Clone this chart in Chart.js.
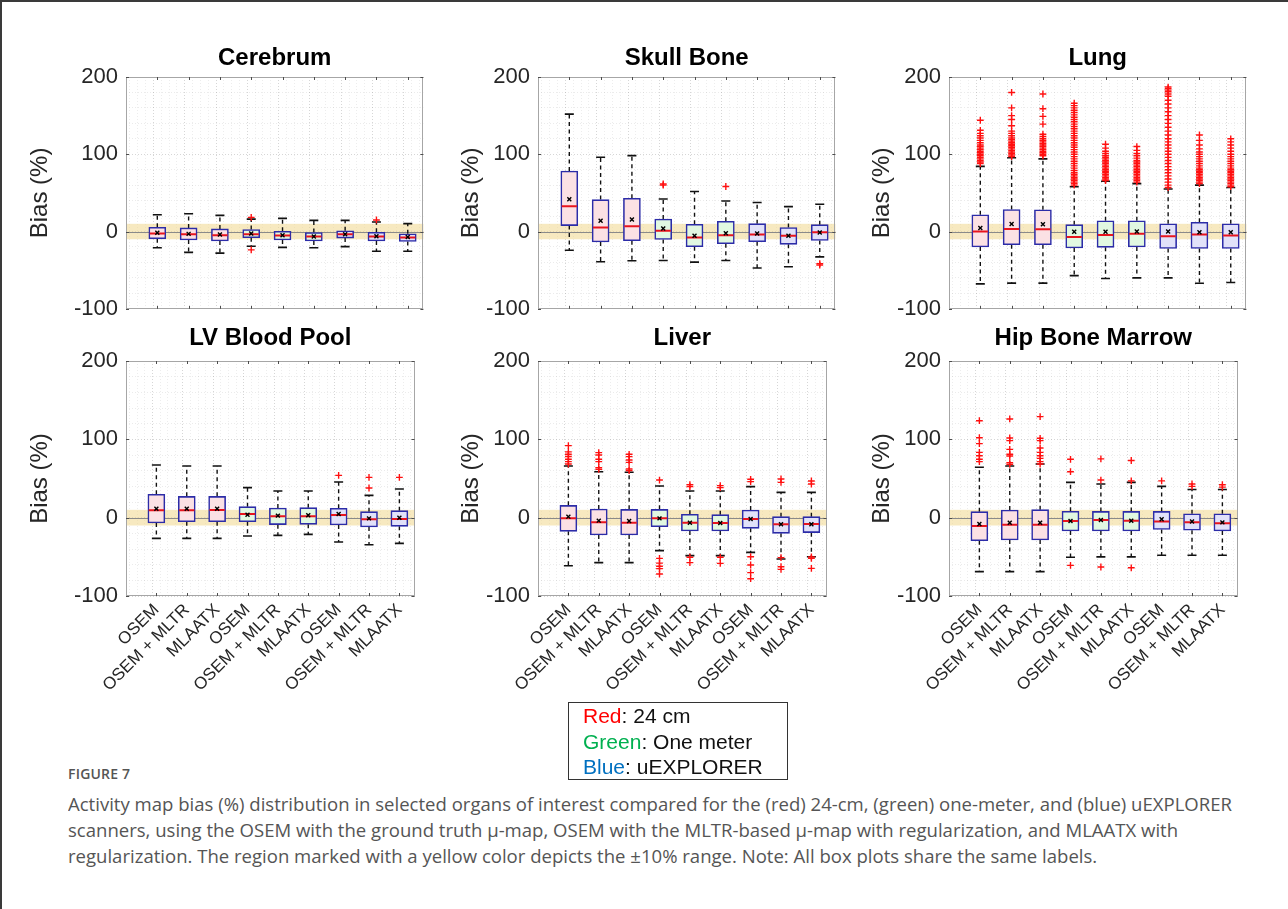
<!DOCTYPE html>
<html><head><meta charset="utf-8">
<script src="https://cdn.jsdelivr.net/npm/chart.js@4.4.0/dist/chart.umd.min.js"></script>
<style>
html,body{margin:0;padding:0;background:#fff;}
body{width:1288px;height:909px;position:relative;overflow:hidden;font-family:"Liberation Sans",Arial,Helvetica,sans-serif;}
#frame{position:absolute;left:0;top:0;width:1288px;height:909px;border-top:2px solid #3a3a3a;border-left:2px solid #3a3a3a;box-sizing:border-box;}
canvas{position:absolute;}
.legend{position:absolute;left:568px;top:702px;width:220px;height:78px;border:1.5px solid #333;box-sizing:border-box;font-size:21px;line-height:25.5px;padding:0 0 0 14px;color:#111;}
.figlabel{position:absolute;left:68px;top:764px;font-family:"Open Sans",sans-serif;font-size:14px;color:#555;font-weight:600;letter-spacing:0.2px;}
.caption{position:absolute;left:68px;top:791px;font-family:"Open Sans",sans-serif;font-size:17.5px;color:#555;line-height:26px;white-space:nowrap;transform-origin:0 0;}
</style></head>
<body>
<div id="frame"></div>
<canvas id="c0"></canvas><canvas id="c1"></canvas><canvas id="c2"></canvas>
<canvas id="c3"></canvas><canvas id="c4"></canvas><canvas id="c5"></canvas>
<div class="legend">
<div><span style="color:#ff0000">Red</span>: 24 cm</div>
<div><span style="color:#00b050">Green</span>: One meter</div>
<div><span style="color:#0070c0">Blue</span>: uEXPLORER</div>
</div>
<div class="figlabel">FIGURE 7</div>
<div class="caption" id="cap">
<div id="capLine1" style="display:inline-block">Activity map bias (%) distribution in selected organs of interest compared for the (red) 24-cm, (green) one-meter, and (blue) uEXPLORER</div>
<div>scanners, using the OSEM with the ground truth μ-map, OSEM with the MLTR-based μ-map with regularization, and MLAATX with</div>
<div>regularization. The region marked with a yellow color depicts the ±10% range. Note: All box plots share the same labels.</div>
</div>
<script>
// ---------- data ----------
const organs = ['Cerebrum', 'Skull Bone', 'Lung', 'LV Blood Pool', 'Liver', 'Hip Bone Marrow'];
const methods = ['OSEM', 'OSEM + MLTR', 'MLAATX', 'OSEM', 'OSEM + MLTR', 'MLAATX', 'OSEM', 'OSEM + MLTR', 'MLAATX'];
const scannerOfBox = ['24 cm', '24 cm', '24 cm', 'One meter', 'One meter', 'One meter', 'uEXPLORER', 'uEXPLORER', 'uEXPLORER'];
const yTicks = [-100, 0, 100, 200];
const bandRange = [-10, 10];

const cerebrumLo   = [-21, -27, -28, -19, -20.5, -21, -19.5, -25.5, -25.5];
const cerebrumQ1   = [-9.4, -11, -12.3, -8, -11, -12.3, -8.5, -12.3, -12.8];
const cerebrumMed  = [-2.6, -3.4, -4.7, -3.4, -5, -6.4, -3.4, -6.4, -7.7];
const cerebrumQ3   = [5.5, 4.7, 3.4, 2.6, 0.4, -1.3, 0.9, -0.9, -3];
const cerebrumHi   = [21.7, 23, 20.9, 16, 17, 14.5, 14.5, 12.3, 10.2];
const cerebrumMean = [-1.7, -3, -3.8, -2.6, -4.7, -6.4, -3.4, -6, -7.2];
const cerebrumOut  = [[], [], [], [18.3, -23.8], [], [], [], [15], []];

const skullLo   = [-24.3, -39.1, -37.9, -37.4, -39.6, -37.4, -47.2, -45.5, -32.8];
const skullQ1   = [7.7, -13.6, -11.9, -10.2, -19.6, -15.7, -13.2, -16.6, -11.5];
const skullMed  = [32.8, 5.1, 6.8, 0.9, -7.7, -4.7, -3.8, -5.5, -0.9];
const skullQ3   = [78.3, 41.3, 43, 16.2, 9.4, 13.2, 10.2, 5.1, 8.9];
const skullHi   = [151.9, 96.2, 98.3, 42.1, 51.9, 39.6, 37.5, 32.3, 35.3];
const skullMean = [41.7, 14, 15.7, 3.8, -5.5, -2.1, -2.5, -5.5, -1.3];
const skullOut  = [[], [], [], [60, 61.5], [], [58.3], [], [], [-43.4, -41.5]];

const lungLo   = [-67.7, -66.8, -66.8, -57, -60.8, -60, -60, -67, -66];
const lungQ1   = [-20, -17, -17, -21.3, -20.4, -20, -22, -22, -22];
const lungMed  = [0, 3.4, 3, -7.2, -4.6, -3, -6, -4, -5];
const lungQ3   = [21.7, 28.5, 28.1, 8.9, 14, 14, 10, 12, 10];
const lungHi   = [84.3, 95.4, 94, 58, 65, 62, 55, 60, 57];
const lungMean = [4.7, 9.8, 9.4, -0.4, -0.4, 0, 0, -1, -1];
const lungOut  = [
  [144, 131, 127, 124, 121, 118, 115, 112, 110, 108, 106, 104, 102, 100, 98, 96, 94, 92, 90, 88],
  [180, 160, 150, 145, 137, 130, 127, 124, 121, 119, 117, 115, 113, 111, 109, 107, 105, 103, 101, 99, 97],
  [178, 159, 149, 139, 126, 123, 120, 118, 116, 114, 112, 110, 108, 106, 104, 102, 100, 98],
  [166, 163, 160, 157, 154, 151, 148, 145, 142, 139, 136, 133, 130, 127, 124, 121, 118, 115, 112, 109, 106, 103, 100, 97, 94, 91, 88, 85, 82, 79, 76, 74, 72, 70, 68, 66, 64, 62, 60],
  [113, 108, 104, 101, 98, 96, 94, 92, 90, 88, 86, 84, 82, 80, 78, 76, 74, 72, 70, 68, 66],
  [110, 105, 101, 98, 95, 92, 90, 88, 86, 84, 82, 80, 78, 76, 74, 72, 70, 68, 66, 64],
  [187, 185, 183, 181, 178, 175, 170, 165, 160, 155, 150, 145, 140, 135, 130, 125, 120, 116, 112, 108, 104, 100, 96, 92, 88, 84, 80, 76, 72, 68, 64, 60, 57],
  [125, 118, 112, 107, 103, 100, 97, 94, 91, 88, 85, 82, 80, 78, 76, 74, 72, 70, 68, 66, 64, 62],
  [120, 116, 112, 108, 104, 100, 97, 94, 91, 88, 85, 82, 80, 78, 76, 74, 72, 70, 68, 66, 64, 62, 60, 58]
];

const lvLo   = [-26.4, -26.4, -26.4, -23.4, -22.6, -21.3, -31.1, -34.5, -32.8];
const lvQ1   = [-6.8, -5.1, -5.1, -5.1, -8.9, -8.5, -9.4, -11.9, -11.1];
const lvMed  = [9.4, 9.4, 9.8, 4.7, 1.7, 1.7, 3.4, -2.1, -1.7];
const lvQ3   = [29.8, 27.2, 27.2, 14, 12.3, 12.8, 11.9, 7.7, 8.9];
const lvHi   = [67.2, 66, 66, 38.3, 34, 34, 45.5, 28.5, 36.6];
const lvMean = [11.5, 11.5, 11.5, 3.8, 2.6, 3, 4.7, -0.9, 0];
const lvOut  = [[], [], [], [], [], [], [54], [51.5, 37.9], [51.5]];

const liverLo   = [-61.3, -57.4, -57.4, -42.1, -48.5, -48.5, -44.3, -52.8, -49.8];
const liverQ1   = [-17.4, -22.1, -22.1, -11.5, -17, -17, -13.6, -20, -19.1];
const liverMed  = [-0.9, -6, -6.4, -0.9, -6.4, -6.8, -1.7, -8.5, -8.1];
const liverQ3   = [15.7, 11, 10.6, 10.6, 4.3, 3.8, 9.8, 1.3, 1.3];
const liverHi   = [66, 58.7, 57.9, 40.4, 34, 34, 39.6, 32.3, 32.3];
const liverMean = [1.3, -3.8, -4.3, -0.9, -6.4, -6.8, -1.7, -8.5, -8.5];
const liverOut  = [
  [92, 84, 81, 78, 74.5, 71.5, 68.5],
  [83, 80, 74.5, 71.5, 63.8, 61.7],
  [80.9, 77.9, 73.6, 70.6, 62.1, 60],
  [48, -52, -58, -62, -65, -72],
  [42, 39.6, -57.4, -50.5],
  [40.9, 38.3, -58.3, -50.6],
  [49, 46, -49.8, -60.4, -70.2, -77.9],
  [49.4, 45.1, -51, -62.6, -66],
  [46.8, 43, -51.9, -64.7, -50]
];

const hipLo   = [-68.9, -68.9, -68.9, -50.6, -50, -50, -48, -48, -48];
const hipQ1   = [-29.4, -28.5, -28.5, -17, -17, -17, -15, -16, -17];
const hipMed  = [-10.6, -8.9, -8.9, -4.3, -3, -4, -5, -6, -7];
const hipQ3   = [7.7, 9.8, 10.2, 8.1, 8, 8, 8, 5, 5];
const hipHi   = [64.3, 66, 68.5, 45.1, 43, 45, 40, 36, 36];
const hipMean = [-8.1, -6.4, -6.4, -4.3, -3, -4, -2, -5, -6];
const hipOut  = [
  [123.8, 102, 94.5, 83.4, 79, 74.5, 71.5],
  [126, 101.7, 98.3, 87.2, 80.9, 78.7, 70.2, 68],
  [129, 101.3, 98.3, 89, 83.4, 79, 75.7, 71.5, 68.5],
  [74.5, 58.7, -60.9],
  [75, 48, -63],
  [73, 47, -64],
  [47],
  [43, 40],
  [42, 39]
];

// ---------- assembly ----------
const panelStats = [
  [cerebrumLo, cerebrumQ1, cerebrumMed, cerebrumQ3, cerebrumHi, cerebrumMean, cerebrumOut],
  [skullLo, skullQ1, skullMed, skullQ3, skullHi, skullMean, skullOut],
  [lungLo, lungQ1, lungMed, lungQ3, lungHi, lungMean, lungOut],
  [lvLo, lvQ1, lvMed, lvQ3, lvHi, lvMean, lvOut],
  [liverLo, liverQ1, liverMed, liverQ3, liverHi, liverMean, liverOut],
  [hipLo, hipQ1, hipMed, hipQ3, hipHi, hipMean, hipOut]
];

const FONT = '"Liberation Sans", Arial, Helvetica, sans-serif';
const fillByScanner = {'24 cm': '#fbe1e4', 'One meter': '#e1f8e1', 'uEXPLORER': '#e1e1f9'};
const PLOT_W = 301, PLOT_H = 235, YAX_W = 124, TOP_PAD = 50, RIGHT_PAD = 6;
const colLeft = [126, 538, 949];
const rowTop = [77, 361];
const yTitlePad = [24, 43, 43];
const isInt = v => Math.abs(v - Math.round(v)) < 1e-6;

const decor = {
  id: 'matlabDecor',
  beforeDatasetsDraw(chart, args, opts) {
    const {ctx, chartArea: a, scales: {y}} = chart;
    ctx.save();
    ctx.fillStyle = 'rgba(240, 215, 140, 0.55)';
    const yTop = y.getPixelForValue(bandRange[1]), yBot = y.getPixelForValue(bandRange[0]);
    ctx.fillRect(a.left, yTop, a.right - a.left, yBot - yTop);
    const y0 = Math.round(y.getPixelForValue(0)) + 0.5;
    ctx.strokeStyle = '#8a8a8a'; ctx.lineWidth = 1;
    ctx.beginPath(); ctx.moveTo(a.left, y0); ctx.lineTo(a.right, y0); ctx.stroke();
    ctx.restore();
  },
  afterDraw(chart, args, opts) {
    const {ctx, chartArea: a, scales: {x, y}} = chart;
    ctx.save();
    ctx.strokeStyle = '#a6a6a6'; ctx.lineWidth = 1;
    ctx.strokeRect(Math.round(a.left) + 0.5, Math.round(a.top) + 0.5, Math.round(a.right - a.left) - 1, Math.round(a.bottom - a.top) - 1);
    ctx.strokeStyle = '#4d4d4d';
    ctx.beginPath();
    for (let i = 1; i <= methods.length; i++) {
      const px = Math.round(x.getPixelForValue(i)) + 0.5;
      ctx.moveTo(px, a.top); ctx.lineTo(px, a.top + 3);
      ctx.moveTo(px, a.bottom); ctx.lineTo(px, a.bottom - 3);
    }
    yTicks.forEach(v => {
      const py = Math.round(y.getPixelForValue(v)) + 0.5;
      ctx.moveTo(a.left, py); ctx.lineTo(a.left + 3, py);
      ctx.moveTo(a.right, py); ctx.lineTo(a.right - 3, py);
    });
    ctx.stroke();
    ctx.fillStyle = '#000';
    ctx.font = 'bold 24px ' + FONT;
    ctx.textAlign = 'center'; ctx.textBaseline = 'middle';
    ctx.fillText(opts.title, (a.left + a.right) / 2, a.top - opts.titleGap);
    ctx.restore();
  }
};

function makePanel(p) {
  const row = Math.floor(p / 3), col = p % 3;
  const [lo, q1, med, q3, hi, mean, out] = panelStats[p];
  const xAxisH = row === 1 ? 111 : 16;
  const botPad = row === 1 ? 4 : 2;
  const cv = document.getElementById('c' + p);
  const W = YAX_W + PLOT_W + RIGHT_PAD, H = TOP_PAD + PLOT_H + xAxisH + botPad;
  cv.width = W; cv.height = H;
  cv.style.left = (colLeft[col] - YAX_W) + 'px';
  cv.style.top = (rowTop[row] - TOP_PAD) + 'px';
  cv.style.width = W + 'px'; cv.style.height = H + 'px';

  const pos = methods.map((m, i) => i + 1);
  const boxes = pos.map((xv, i) => ({x: xv, y: [q1[i], q3[i]]}));
  const whisk = [];
  pos.forEach((xv, i) => {
    whisk.push({x: xv, y: q3[i]}, {x: xv, y: hi[i]}, {x: xv, y: null},
               {x: xv, y: q1[i]}, {x: xv, y: lo[i]}, {x: xv, y: null});
  });
  const caps = [];
  pos.forEach((xv, i) => { caps.push({x: xv, y: hi[i]}, {x: xv, y: lo[i]}); });
  const meds = pos.map((xv, i) => ({x: xv, y: med[i]}));
  const means = pos.map((xv, i) => ({x: xv, y: mean[i]}));
  const outs = [];
  pos.forEach((xv, i) => out[i].forEach(v => outs.push({x: xv, y: v})));

  new Chart(cv, {
    type: 'bar',
    data: {
      datasets: [
        {type: 'line', data: whisk, borderColor: '#111', borderWidth: 1.4, borderDash: [4, 3.5],
         pointRadius: 0, spanGaps: false, fill: false, order: 6},
        {type: 'bar', data: boxes, backgroundColor: scannerOfBox.map(s => fillByScanner[s]),
         borderColor: '#2c2ca8', borderWidth: 1.6, borderSkipped: false, barThickness: 17, order: 5},
        {type: 'scatter', data: caps, pointStyle: 'line', pointRadius: 4.5, borderColor: '#111',
         pointBorderColor: '#111', pointBorderWidth: 1.6, borderWidth: 1.6, order: 4},
        {type: 'scatter', data: meds, pointStyle: 'line', pointRadius: 7.6, borderColor: '#e8141e',
         pointBorderColor: '#e8141e', pointBorderWidth: 2, borderWidth: 2, order: 3},
        {type: 'scatter', data: means, pointStyle: 'crossRot', pointRadius: 2.8, borderColor: '#000',
         pointBorderColor: '#000', pointBorderWidth: 1.4, borderWidth: 1.4, order: 2},
        {type: 'scatter', data: outs, pointStyle: 'cross', pointRadius: 3.4, borderColor: '#ff1010',
         pointBorderColor: '#ff1010', pointBorderWidth: 1.4, borderWidth: 1.4, order: 1}
      ]
    },
    options: {
      responsive: false, animation: false, events: [],
      layout: {padding: {top: TOP_PAD, right: RIGHT_PAD, left: 0, bottom: botPad}},
      plugins: {
        legend: {display: false}, tooltip: {enabled: false},
        matlabDecor: {title: organs[p], titleGap: row === 0 ? 19 : 23}
      },
      scales: {
        x: {
          type: 'linear', min: 0, max: 9.5, offset: false,
          afterFit: s => { s.height = xAxisH; },
          border: {display: false, dash: [1, 2]},
          grid: {
            drawTicks: false,
            color: c => (c.tick && isInt(c.tick.value)) ? 'rgba(0,0,0,0.16)' : 'rgba(0,0,0,0.07)',
            lineWidth: 1
          },
          ticks: {
            display: row === 1, stepSize: 0.25, autoSkip: false, minRotation: 45, maxRotation: 45,
            padding: 4, color: '#262626', font: {family: FONT, size: 17},
            callback: v => (isInt(v) && v >= 1 && v <= methods.length) ? methods[Math.round(v) - 1] : ''
          }
        },
        y: {
          min: -100, max: 200,
          afterFit: s => { s.width = YAX_W; },
          border: {display: false, dash: [1, 2]},
          grid: {
            drawTicks: false,
            color: c => (c.tick && c.tick.value % 100 === 0) ? 'rgba(0,0,0,0.16)' : 'rgba(0,0,0,0.08)'
          },
          ticks: {
            stepSize: 20, autoSkip: false, padding: 8, color: '#262626',
            font: {family: FONT, size: 22},
            callback: v => yTicks.includes(v) ? String(v) : ''
          },
          title: {display: true, text: 'Bias (%)', color: '#262626',
                  font: {family: FONT, size: 24}, padding: {top: yTitlePad[col], bottom: 0}}
        }
      }
    },
    plugins: [decor]
  });
}
for (let p = 0; p < organs.length; p++) makePanel(p);

// fit caption width to the reference text block (first line ends near x = 1232)
(function fitCaption() {
  const cap = document.getElementById('cap');
  const w = document.getElementById('capLine1').getBoundingClientRect().width;
  if (w > 0) cap.style.transform = 'scaleX(' + (1164 / w).toFixed(4) + ')';
})();
</script>
</body></html>
